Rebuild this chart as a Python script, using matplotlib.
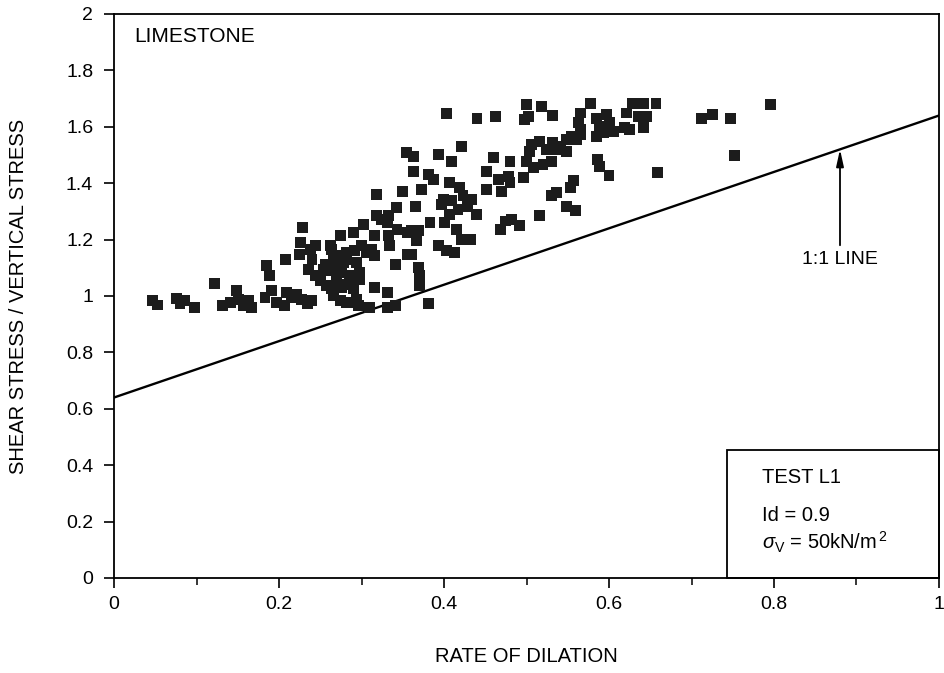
import matplotlib
matplotlib.use("Agg")
import matplotlib.pyplot as plt
from matplotlib.ticker import MultipleLocator, FuncFormatter
from matplotlib.patches import Rectangle

plt.rcParams['font.family'] = ['Liberation Sans', 'DejaVu Sans']
plt.rcParams['mathtext.fontset'] = 'custom'
plt.rcParams['mathtext.rm'] = 'Liberation Sans'
plt.rcParams['mathtext.it'] = 'Liberation Sans:italic'

# ---- data ----
dilation = [
    0.047, 0.053, 0.076, 0.080, 0.086, 0.098, 0.122, 0.132, 0.141, 0.148, 0.151, 0.157, 0.163, 0.167,
    0.185, 0.189, 0.183, 0.191, 0.197, 0.208, 0.207, 0.209, 0.215, 0.221, 0.227, 0.234, 0.240,
    0.228, 0.226, 0.225, 0.238, 0.244, 0.240, 0.236, 0.244, 0.250, 0.254,
    0.258, 0.264, 0.270, 0.276, 0.282, 0.262, 0.268, 0.274, 0.278, 0.282, 0.276, 0.286, 0.270, 0.262,
    0.274, 0.282, 0.290, 0.296, 0.294, 0.290, 0.302, 0.292, 0.300, 0.306, 0.312, 0.316, 0.298, 0.294,
    0.310, 0.316, 0.331, 0.331, 0.341, 0.318, 0.318, 0.324, 0.333, 0.331, 0.316, 0.333, 0.334, 0.343,
    0.341, 0.342, 0.350, 0.355, 0.356, 0.356,
    0.256, 0.264, 0.266, 0.270, 0.282, 0.290, 0.298, 0.290, 0.266,
    0.403, 0.440, 0.462, 0.500, 0.502, 0.498, 0.518, 0.532, 0.578, 0.565, 0.563, 0.565, 0.561,
    0.585, 0.589, 0.585, 0.597, 0.601, 0.605, 0.593, 0.621, 0.629, 0.642, 0.636, 0.646, 0.642, 0.619, 0.625,
    0.657, 0.712, 0.726, 0.747, 0.796, 0.752, 0.659, 0.586, 0.589, 0.600,
    0.506, 0.516, 0.532, 0.541, 0.549, 0.555, 0.565, 0.504, 0.524, 0.536, 0.549, 0.500, 0.508, 0.520, 0.530,
    0.460, 0.480, 0.452, 0.466, 0.478, 0.480, 0.470, 0.452, 0.496, 0.421, 0.393, 0.409,
    0.363, 0.363, 0.381, 0.387, 0.373, 0.407, 0.419, 0.399, 0.409, 0.423, 0.433, 0.397, 0.439, 0.407,
    0.417, 0.428, 0.365, 0.383, 0.401, 0.361, 0.369, 0.367, 0.415, 0.421, 0.432, 0.393, 0.403, 0.413,
    0.361, 0.369, 0.370, 0.370, 0.381, 0.468, 0.474, 0.482, 0.492, 0.516, 0.530, 0.536, 0.553, 0.557,
    0.549, 0.559,
]
stress_ratio = [
    0.983, 0.968, 0.992, 0.972, 0.983, 0.960, 1.045, 0.966, 0.978, 1.019, 0.989, 0.966, 0.983, 0.960,
    1.107, 1.072, 0.996, 1.019, 0.978, 1.128, 0.966, 1.013, 0.995, 1.007, 0.989, 0.972, 0.983,
    1.243, 1.190, 1.148, 1.166, 1.178, 1.131, 1.095, 1.072, 1.054, 1.095,
    1.036, 1.025, 1.036, 1.031, 1.042, 1.178, 1.142, 1.213, 1.119, 1.155, 1.084, 1.072, 1.072, 1.089,
    0.983, 0.978, 0.978, 0.966, 0.989, 1.225, 1.254, 1.160, 1.178, 1.155, 1.166, 1.142, 1.084, 1.119,
    0.960, 1.031, 1.013, 0.960, 0.966, 1.360, 1.284, 1.272, 1.284, 1.261, 1.213, 1.213, 1.178, 1.237,
    1.113, 1.313, 1.372, 1.508, 1.226, 1.148,
    1.113, 1.166, 1.131, 1.095, 1.131, 1.048, 1.060, 1.025, 1.001,
    1.647, 1.631, 1.635, 1.678, 1.637, 1.625, 1.672, 1.640, 1.682, 1.649, 1.614, 1.590, 1.555,
    1.631, 1.602, 1.567, 1.643, 1.614, 1.584, 1.578, 1.649, 1.684, 1.684, 1.637, 1.637, 1.596, 1.596, 1.590,
    1.682, 1.631, 1.643, 1.628, 1.678, 1.498, 1.439, 1.484, 1.460, 1.428,
    1.537, 1.549, 1.543, 1.531, 1.555, 1.567, 1.572, 1.513, 1.519, 1.519, 1.513, 1.478, 1.455, 1.466, 1.478,
    1.490, 1.478, 1.443, 1.413, 1.425, 1.402, 1.372, 1.378, 1.419, 1.531, 1.502, 1.478,
    1.496, 1.443, 1.431, 1.413, 1.378, 1.402, 1.384, 1.343, 1.337, 1.355, 1.343, 1.325, 1.290, 1.290,
    1.307, 1.319, 1.319, 1.261, 1.261, 1.231, 1.231, 1.196, 1.237, 1.201, 1.201, 1.178, 1.160, 1.154,
    1.148, 1.101, 1.072, 1.036, 0.972, 1.237, 1.266, 1.272, 1.249, 1.284, 1.355, 1.367, 1.384, 1.408,
    1.319, 1.302,
]

line_x = [0.0, 1.0]
line_y = [0.64, 1.64]

x_ticks = [0, 0.2, 0.4, 0.6, 0.8, 1.0]
y_ticks = [0, 0.2, 0.4, 0.6, 0.8, 1.0, 1.2, 1.4, 1.6, 1.8, 2.0]

W, H = 945, 673
fig = plt.figure(figsize=(W / 100, H / 100), dpi=100)
ax = fig.add_axes([114 / W, 1 - 578 / H, 825 / W, 564 / H])

ax.plot(line_x, line_y, color='black', lw=1.7, zorder=2)
ax.scatter(dilation, stress_ratio, marker='s', s=62, color='#1c1c1c',
           edgecolors='none', zorder=3)

ax.set_xlim(0, 1)
ax.set_ylim(0, 2)
ax.set_xticks(x_ticks)
ax.set_yticks(y_ticks)
ax.xaxis.set_minor_locator(MultipleLocator(0.1))
fmt = FuncFormatter(lambda v, p: f"{v:g}")
ax.xaxis.set_major_formatter(fmt)
ax.yaxis.set_major_formatter(fmt)
ax.tick_params(axis='both', which='major', direction='out', length=7, width=1.2,
               labelsize=14, color='black')
ax.tick_params(axis='x', which='major', pad=6)
ax.tick_params(axis='y', which='major', pad=8)
ax.tick_params(axis='x', which='minor', direction='out', length=5, width=1.1)
for sp in ax.spines.values():
    sp.set_linewidth(1.3)

# info box
ax.add_patch(Rectangle((0.743, 0.0), 0.257, 0.455, transform=ax.transData,
                       fill=False, edgecolor='black', lw=1.3, zorder=4, clip_on=False))
ax.text(0.786, 0.355, 'TEST L1', fontsize=14.5, va='center', ha='left')
ax.text(0.786, 0.223, 'Id = 0.9', fontsize=14.5, va='center', ha='left')
ax.text(0.786, 0.128, r'$\sigma_{\mathrm{V}}$ = 50kN/m$^{\,2}$', fontsize=14.5,
        va='center', ha='left')

ax.text(0.025, 1.92, 'LIMESTONE', fontsize=15, va='center', ha='left')

# 1:1 line annotation
ax.annotate('', xy=(0.88, 1.52), xytext=(0.88, 1.18),
            arrowprops=dict(arrowstyle='-|>,head_length=1.0,head_width=0.22',
                            color='black', lw=1.3, shrinkA=0, shrinkB=0))
ax.text(0.88, 1.13, '1:1 LINE', fontsize=14, va='center', ha='center')

fig.text(526 / W, 1 - 657 / H, 'RATE OF DILATION', fontsize=14.5, ha='center', va='center')
fig.text(19 / W, 1 - 296 / H, 'SHEAR STRESS / VERTICAL STRESS', fontsize=14.5,
         rotation=90, ha='center', va='center')

fig.savefig('out.png', dpi=100)
